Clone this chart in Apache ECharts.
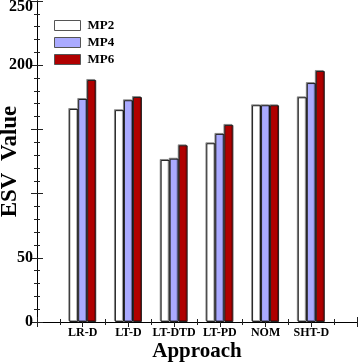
<!DOCTYPE html>
<html>
<head>
<meta charset="utf-8">
<script src="https://cdn.jsdelivr.net/npm/echarts@6/dist/echarts.min.js"></script>
<style>
  html, body { margin: 0; padding: 0; background: #fff; }
  #main { width: 358px; height: 364px; }
</style>
</head>
<body>
<div id="main"></div>
<script>
"use strict";
// approaches along the x axis, placed at positions 1..6
let approaches = ['LR-D', 'LT-D', 'LT-DTD', 'LT-PD', 'NOM', 'SHT-D'];
let seriesNames = ['MP2', 'MP4', 'MP6'];
let mp2 = [165.9, 165.0, 126.2, 139.2, 168.8, 175.0];
let mp4 = [173.7, 172.7, 127.2, 146.5, 168.8, 186.1];
let mp6 = [188.5, 175.2, 137.6, 153.5, 168.8, 195.5];
let yTicksHidden = [100, 150];

let myChart = echarts.init(document.getElementById('main'));

function toPoints(arr) {
    let out = [];
    for (let i = 0; i < arr.length; i++) {
        out.push([i + 1, arr[i]]);
    }
    return out;
}

let fontFam = '"Liberation Serif", "Times New Roman", serif';
let tickStyle = { color: '#222', width: 1 };

function barSeries(name, data, fill) {
    return {
        name: name,
        type: 'bar',
        data: toPoints(data),
        barWidth: 9,
        barGap: '0%',
        itemStyle: {
            color: fill,
            borderColor: '#222',
            borderWidth: 1,
            shadowColor: 'rgba(0,0,0,0.35)',
            shadowOffsetX: -1,
            shadowOffsetY: -1
        }
    };
}

let option = {
    animation: false,
    grid: { left: 37, right: 1, top: 1, bottom: 42, containLabel: false, outerBoundsMode: 'none' },
    legend: {
        orient: 'vertical',
        left: 49,
        top: 14,
        itemWidth: 26,
        itemHeight: 10,
        itemGap: 4,
        icon: 'rect',
        data: seriesNames,
        textStyle: { fontFamily: fontFam, fontWeight: 'bold', fontSize: 13, color: '#000', padding: [0, 0, 0, 2] },
        itemStyle: { borderColor: '#555', borderWidth: 1 }
    },
    xAxis: [{
        type: 'value',
        min: 0,
        max: 7,
        interval: 1,
        name: 'Approach',
        nameLocation: 'middle',
        nameGap: 19,
        nameMoveOverlap: false,
        nameTextStyle: { fontFamily: fontFam, fontWeight: 'bold', fontSize: 21, color: '#000', verticalAlign: 'top' },
        axisLine: { lineStyle: { color: '#000' } },
        axisTick: { inside: true, length: 5, lineStyle: tickStyle },
        minorTick: { show: true, splitNumber: 2, length: 3, lineStyle: tickStyle },
        splitLine: { show: false },
        axisLabel: {
            margin: 5,
            fontFamily: fontFam, fontWeight: 'bold', fontSize: 12, color: '#000',
            formatter: function (v) {
                return (v >= 1 && v <= approaches.length) ? approaches[v - 1] : '';
            }
        }
    }, {
        type: 'value',
        position: 'top',
        min: 0,
        max: 7,
        interval: 1,
        axisLine: { show: true, lineStyle: { color: '#000' } },
        axisTick: { inside: true, length: 5, lineStyle: tickStyle },
        minorTick: { show: true, splitNumber: 2, length: 3, lineStyle: tickStyle },
        splitLine: { show: false },
        axisLabel: { show: false }
    }],
    yAxis: [{
        type: 'value',
        min: 0,
        max: 250,
        interval: 50,
        name: 'ESV  Value',
        nameLocation: 'middle',
        nameGap: 15,
        nameMoveOverlap: false,
        nameTextStyle: { fontFamily: fontFam, fontWeight: 'bold', fontSize: 23, color: '#000' },
        axisLine: { show: true, lineStyle: { color: '#000' } },
        axisTick: { inside: true, length: 6, lineStyle: tickStyle },
        minorTick: { show: true, splitNumber: 5, length: 3, lineStyle: tickStyle },
        splitLine: { show: false },
        axisLabel: {
            margin: 4,
            fontFamily: fontFam, fontWeight: 'bold', fontSize: 16, color: '#000',
            formatter: function (v) {
                if (yTicksHidden.indexOf(v) >= 0) return '';
                if (v === 250) return '{top|250}';
                return String(v);
            },
            rich: {
                top: { fontFamily: fontFam, fontWeight: 'bold', fontSize: 16, color: '#000', padding: [12, 0, 0, 0] }
            }
        }
    }, {
        type: 'value',
        position: 'right',
        min: 0,
        max: 250,
        interval: 50,
        axisLine: { show: true, lineStyle: { color: '#000' } },
        axisTick: { inside: true, length: 6, lineStyle: tickStyle },
        minorTick: { show: true, splitNumber: 5, length: 3, lineStyle: tickStyle },
        splitLine: { show: false },
        axisLabel: { show: false }
    }],
    series: [
        barSeries(seriesNames[0], mp2, '#ffffff'),
        barSeries(seriesNames[1], mp4, '#aaaaff'),
        barSeries(seriesNames[2], mp6, '#b00000')
    ]
};
myChart.setOption(option);
</script>
</body>
</html>
